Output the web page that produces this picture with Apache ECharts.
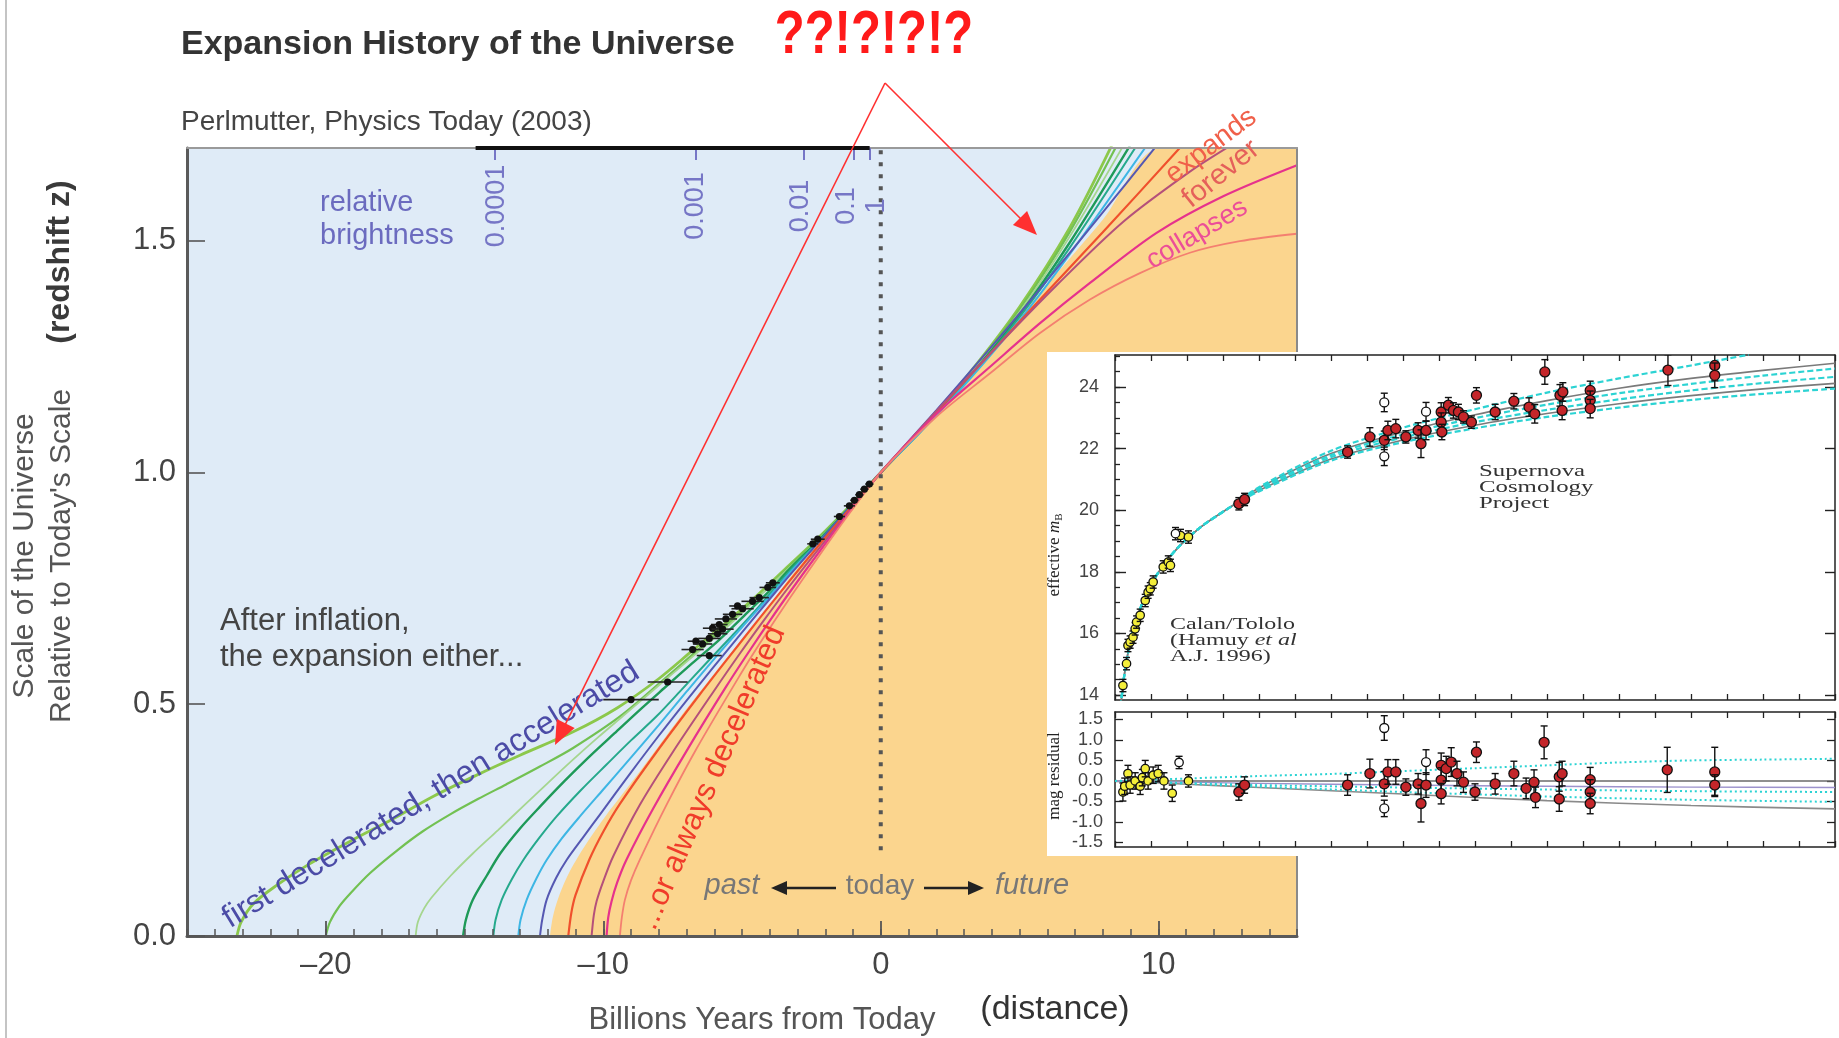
<!DOCTYPE html>
<html><head><meta charset="utf-8">
<script src="https://cdn.jsdelivr.net/npm/echarts/dist/echarts.min.js"></script>
<style>html,body{margin:0;padding:0;background:#fff;}#c{width:1839px;height:1038px;}</style>
</head><body><div id="c"></div>
<script>
// ---------------- Main chart: scale of the universe vs billions of years from today
const xMajorTicks = [-20, -10, 0, 10];
const yTicks = [0, 0.5, 1.0, 1.5];
const brightnessPos = [-13.9, -6.66, -2.77, -0.97, -0.39];
const brightnessLabels = ['0.0001', '0.001', '0.01', '0.1', '1'];
const brightnessBar = [[-14.6, 1.7], [-0.4, 1.7]];
const todayLine = [[0, 0.185], [0, 1.7]];

const curve1 = [[-23.2,0],[-23.05,0.03],[-22.6,0.07],[-21.8,0.108],[-20.6,0.155],[-19.1,0.205],[-17.6,0.252],[-16.1,0.302],[-14.6,0.346],[-13.0,0.39],[-11.1,0.44],[-9.5,0.492],[-8.0,0.555],[-6.8,0.615],[-5.6,0.675],[-4.4,0.738],[-3.3,0.80],[-2.2,0.862],[-1.1,0.929],[0,1],[1.4,1.09],[3.2,1.215],[5.0,1.357],[6.8,1.527],[8.32,1.705]];
const curve2 = [[-20.0,0],[-19.85,0.03],[-19.5,0.065],[-19.1,0.093],[-18.4,0.136],[-17.4,0.186],[-16.5,0.226],[-15.5,0.263],[-14.5,0.296],[-13.5,0.327],[-12.3,0.365],[-11.1,0.405],[-9.3,0.478],[-7.5,0.57],[-6.3,0.632],[-5.2,0.69],[-4.2,0.744],[-3.3,0.797],[-2.2,0.86],[-1.1,0.928],[0,1],[1.4,1.089],[3.2,1.213],[5.0,1.352],[6.8,1.518],[8.5,1.705]];
const curve3 = [[-16.76,0],[-16.68,0.03],[-16.45,0.06],[-16.2,0.082],[-15.5,0.13],[-14.7,0.178],[-13.8,0.228],[-12.9,0.279],[-12.0,0.33],[-11.1,0.38],[-10.2,0.428],[-9.3,0.474],[-8.4,0.52],[-7.5,0.566],[-6.4,0.622],[-5.3,0.68],[-4.3,0.738],[-3.3,0.794],[-2.2,0.858],[-1.1,0.927],[0,1],[1.4,1.088],[3.2,1.21],[5.0,1.346],[6.8,1.508],[8.74,1.705]];
const curve4 = [[-15.05,0],[-14.95,0.035],[-14.7,0.078],[-14.2,0.13],[-13.7,0.179],[-13.0,0.232],[-12.28,0.279],[-11.4,0.334],[-10.5,0.387],[-9.6,0.437],[-8.68,0.488],[-7.8,0.535],[-6.8,0.588],[-5.8,0.64],[-4.8,0.698],[-4.0,0.745],[-3.3,0.791],[-2.2,0.856],[-1.1,0.926],[0,1],[1.4,1.087],[3.2,1.207],[5.0,1.34],[6.8,1.495],[8.98,1.705]];
const curve5 = [[-13.96,0],[-13.88,0.035],[-13.66,0.078],[-13.3,0.122],[-12.88,0.164],[-12.3,0.212],[-11.68,0.258],[-10.8,0.315],[-9.88,0.37],[-9.0,0.422],[-8.08,0.474],[-7.2,0.53],[-6.3,0.588],[-5.4,0.645],[-4.4,0.71],[-3.3,0.786],[-2.2,0.854],[-1.1,0.925],[0,1],[1.4,1.086],[3.2,1.204],[5.0,1.335],[6.8,1.484],[9.22,1.705]];
const curve6 = [[-13.06,0],[-12.98,0.035],[-12.76,0.078],[-12.4,0.125],[-12.04,0.164],[-11.5,0.21],[-10.84,0.258],[-10.0,0.316],[-9.16,0.374],[-8.0,0.455],[-7.0,0.527],[-6.0,0.598],[-5.0,0.666],[-4.0,0.733],[-3.3,0.782],[-2.2,0.852],[-1.1,0.924],[0,1],[1.4,1.085],[3.2,1.201],[5.0,1.328],[6.8,1.47],[9.58,1.705]];
const curve7 = [[-12.28,0],[-12.2,0.035],[-12.04,0.078],[-11.7,0.125],[-11.32,0.164],[-10.7,0.215],[-10.12,0.262],[-9.0,0.353],[-8.0,0.432],[-7.0,0.508],[-6.0,0.582],[-5.0,0.655],[-4.0,0.727],[-3.3,0.777],[-2.2,0.852],[-1.1,0.926],[0,1],[2,1.134],[4,1.272],[6,1.415],[8,1.561],[9.94,1.705]];
const curve8 = [[-11.26,0],[-11.15,0.05],[-11.0,0.088],[-10.5,0.165],[-10.0,0.225],[-9.4,0.285],[-8.08,0.397],[-6.51,0.522],[-5.43,0.605],[-4.4,0.683],[-3.3,0.765],[-2.2,0.845],[-1.1,0.923],[0,1],[2,1.13],[4,1.26],[6,1.39],[8,1.518],[10.85,1.705]];
const curve9 = [[-10.42,0],[-10.34,0.045],[-10.24,0.075],[-10.0,0.118],[-9.64,0.172],[-8.68,0.283],[-7.48,0.398],[-6.03,0.527],[-5.07,0.61],[-4.2,0.682],[-3.3,0.754],[-2.2,0.838],[-1.1,0.92],[0,1],[2,1.132],[4,1.26],[6.34,1.404],[8.74,1.541],[11.14,1.649],[12.6,1.705]];
const curve10 = [[-9.88,0],[-9.82,0.04],[-9.7,0.075],[-9.5,0.115],[-9.16,0.165],[-8.2,0.275],[-6.99,0.40],[-5.55,0.54],[-4.71,0.617],[-4.0,0.68],[-3.3,0.74],[-2.2,0.83],[-1.1,0.917],[0,1],[2,1.126],[3.94,1.228],[5.74,1.322],[7.54,1.409],[9.94,1.517],[12.34,1.596],[15,1.663]];
const curve11 = [[-9.4,0],[-9.33,0.04],[-9.22,0.078],[-9.0,0.12],[-8.68,0.165],[-7.72,0.283],[-6.63,0.405],[-5.07,0.563],[-4.35,0.632],[-3.3,0.727],[-2.2,0.822],[-1.1,0.914],[0,1],[2,1.12],[3.94,1.214],[5.74,1.301],[7.54,1.373],[9.34,1.43],[11.14,1.474],[12.94,1.499],[15,1.515]];
const decelBoundary = [[-11.92,0],[-11.82,0.04],[-11.6,0.085],[-11.2,0.14],[-10.6,0.2],[-9.9,0.26],[-9.0,0.33],[-8.0,0.41],[-7.0,0.49],[-6.0,0.566],[-5.0,0.64],[-4.0,0.712],[-3.3,0.771],[-2.2,0.849],[-1.1,0.925],[0,1],[2,1.133],[4,1.268],[6,1.405],[8,1.545],[10.1,1.7],[15,1.7]];

const curves = [curve1, curve2, curve3, curve4, curve5, curve6, curve7, curve8, curve9, curve10, curve11];
const curveColors = ['#8cc84b', '#72c152', '#a5d68e', '#1e9a58', '#25a98c', '#3db6e4', '#5558b2', '#f0502c', '#b5507a', '#e6328c', '#f47f70'];
const curveWidths = [2.8, 2.2, 1.8, 2.4, 2, 2, 2, 2.2, 2, 2.2, 1.8];

const sneTime = [-0.41,-0.59,-0.77,-0.95,-1.13,-1.49,-2.27,-2.45,-4.07,-3.89,-4.38,-4.62,-4.98,-5.16,-5.34,-5.58,-5.82,-6.06,-5.70,-5.88,-6.66,-6.18,-6.42,-6.78,-6.18,-7.68,-9.0];
const sneScale = [0.975,0.964,0.952,0.940,0.928,0.905,0.856,0.846,0.752,0.762,0.730,0.722,0.706,0.712,0.694,0.684,0.672,0.664,0.662,0.652,0.636,0.642,0.630,0.618,0.605,0.548,0.51];
const sneTimeErr = [0.15,0.15,0.15,0.15,0.2,0.2,0.25,0.2,0.3,0.25,0.35,0.4,0.4,0.3,0.35,0.4,0.3,0.35,0.4,0.35,0.3,0.4,0.35,0.4,0.45,0.72,1.0];

// ---------------- Inset: Hubble diagram (redshift z vs effective m_B) + residuals
const magMajor = [14, 16, 18, 20, 22, 24];
const residTicks = [-1.5, -1.0, -0.5, 0, 0.5, 1.0, 1.5];

const model1 = [[0.008,13.62],[0.012,14.5],[0.02,15.6],[0.03,16.48],[0.045,17.36],[0.065,18.15],[0.09,18.85],[0.12,19.47],[0.16,20.1],[0.2,20.75],[0.3,21.93],[0.4,22.68],[0.5,23.28],[0.6,23.82],[0.7,24.28],[0.8,24.7],[0.88,25.05]];
const model2 = [[0.008,13.62],[0.012,14.5],[0.02,15.6],[0.03,16.48],[0.045,17.36],[0.065,18.15],[0.09,18.85],[0.12,19.47],[0.16,20.1],[0.2,20.72],[0.3,21.84],[0.4,22.54],[0.5,23.1],[0.6,23.56],[0.7,23.96],[0.8,24.28],[0.9,24.54],[1.0,24.77]];
const model3 = [[0.008,13.62],[0.012,14.5],[0.02,15.6],[0.03,16.48],[0.045,17.36],[0.065,18.15],[0.09,18.85],[0.12,19.47],[0.16,20.1],[0.2,20.7],[0.3,21.79],[0.4,22.46],[0.5,22.99],[0.6,23.43],[0.7,23.8],[0.8,24.1],[0.9,24.37],[1.0,24.6]];
const model4 = [[0.008,13.62],[0.012,14.5],[0.02,15.6],[0.03,16.48],[0.045,17.36],[0.065,18.15],[0.09,18.85],[0.12,19.47],[0.16,20.1],[0.2,20.67],[0.3,21.72],[0.4,22.36],[0.5,22.86],[0.6,23.26],[0.7,23.6],[0.8,23.89],[0.9,24.13],[1.0,24.33]];
const model5 = [[0.008,13.62],[0.012,14.5],[0.02,15.6],[0.03,16.48],[0.045,17.36],[0.065,18.15],[0.09,18.85],[0.12,19.47],[0.16,20.1],[0.2,20.64],[0.3,21.66],[0.4,22.28],[0.5,22.76],[0.6,23.14],[0.7,23.46],[0.8,23.72],[0.9,23.94],[1.0,24.12]];
const model6 = [[0.008,13.62],[0.012,14.5],[0.02,15.6],[0.03,16.48],[0.045,17.36],[0.065,18.15],[0.09,18.85],[0.12,19.47],[0.16,20.1],[0.2,20.61],[0.3,21.61],[0.4,22.21],[0.5,22.66],[0.6,23.03],[0.7,23.33],[0.8,23.58],[0.9,23.78],[1.0,23.95]];

const resid1 = [[0,0],[0.1,0.06],[0.2,0.12],[0.3,0.17],[0.4,0.24],[0.5,0.31],[0.6,0.38],[0.7,0.45],[0.8,0.5],[0.9,0.52],[1.0,0.54]];
const resid2 = [[0,0],[1.0,0]];
const resid3 = [[0,0],[0.2,-0.06],[0.4,-0.1],[0.6,-0.13],[0.8,-0.15],[1.0,-0.16]];
const resid4 = [[0,0],[0.1,-0.05],[0.2,-0.1],[0.4,-0.16],[0.6,-0.21],[0.8,-0.25],[1.0,-0.27]];
const resid5 = [[0,0],[0.1,-0.07],[0.2,-0.14],[0.4,-0.27],[0.6,-0.38],[0.8,-0.46],[1.0,-0.51]];
const resid6 = [[0,0],[0.1,-0.08],[0.2,-0.16],[0.4,-0.32],[0.6,-0.48],[0.8,-0.6],[1.0,-0.68]];

const lowZ      = [0.011,0.016,0.018,0.021,0.025,0.028,0.030,0.035,0.042,0.046,0.049,0.053,0.067,0.074,0.077,0.091,0.102];
const lowZMag   = [14.31,15.02,15.61,15.72,15.88,16.15,16.37,16.59,17.07,17.34,17.45,17.67,18.16,18.32,18.21,19.18,19.13];
const lowZMagErr= [0.2,0.2,0.2,0.2,0.2,0.2,0.2,0.2,0.2,0.2,0.2,0.2,0.2,0.2,0.2,0.2,0.2];
const lowZOpen = [0.084], lowZOpenMag = [19.24], lowZOpenErr = [0.2];

const scpZ      = [0.172,0.180,0.323,0.354,0.374,0.379,0.390,0.404,0.421,0.425,0.432,0.453,0.453,0.454,0.463,0.470,0.477,0.484,0.495,0.502,0.528,0.554,0.575,0.583,0.597,0.618,0.621,0.622,0.660,0.660,0.660,0.768,0.833,0.833];
const scpMag    = [20.21,20.35,21.89,22.38,22.27,22.59,22.65,22.38,22.59,22.16,22.59,23.19,22.86,22.54,23.41,23.24,23.19,23.03,22.86,23.73,23.19,23.54,23.35,23.13,24.49,23.73,23.24,23.84,23.89,23.57,23.30,24.55,24.70,24.38];
const scpMagErr = [0.2,0.2,0.2,0.3,0.3,0.3,0.3,0.2,0.25,0.45,0.3,0.3,0.3,0.25,0.25,0.25,0.25,0.2,0.2,0.25,0.25,0.25,0.3,0.3,0.4,0.35,0.3,0.3,0.3,0.3,0.3,0.5,0.5,0.4];
const scpOpenZ = [0.374,0.374,0.432], scpOpenMag = [23.5,21.75,23.2], scpOpenErr = [0.3,0.3,0.3];

const lowZResZ   = [0.011,0.0135,0.018,0.021,0.028,0.035,0.038,0.042,0.046,0.053,0.060,0.068,0.0795,0.102];
const lowZRes    = [-0.27,-0.13,0.18,-0.1,0.0,-0.13,0.08,0.30,0.0,0.14,0.18,0.0,-0.30,0.0];
const lowZResErr = [0.22,0.2,0.2,0.2,0.2,0.2,0.2,0.2,0.2,0.2,0.2,0.2,0.2,0.15];
const lowZOpenResZ = [0.089], lowZOpenRes = [0.45], lowZOpenResErr = [0.15];

const scpResZ   = [0.172,0.180,0.323,0.354,0.374,0.379,0.390,0.404,0.421,0.425,0.432,0.453,0.453,0.453,0.460,0.467,0.475,0.484,0.502,0.500,0.528,0.554,0.571,0.582,0.584,0.596,0.617,0.621,0.617,0.660,0.660,0.660,0.767,0.833,0.833];
const scpRes    = [-0.27,-0.10,-0.10,0.18,-0.07,0.22,0.22,-0.15,-0.07,-0.55,-0.10,0.38,0.02,-0.31,0.30,0.46,0.18,-0.03,0.70,-0.27,-0.07,0.18,-0.18,-0.03,-0.40,0.94,0.10,0.18,-0.44,0.03,-0.27,-0.55,0.27,0.22,-0.10];
const scpResErr = [0.2,0.2,0.25,0.35,0.3,0.3,0.3,0.2,0.25,0.45,0.3,0.3,0.3,0.25,0.3,0.35,0.3,0.25,0.25,0.2,0.25,0.3,0.25,0.3,0.25,0.4,0.35,0.3,0.3,0.3,0.3,0.25,0.55,0.6,0.25];
const scpOpenResZ = [0.374,0.374,0.432], scpOpenRes = [1.29,-0.67,0.46], scpOpenResErr = [0.3,0.2,0.3];

// ---------------- helpers
const FONT = '"Liberation Sans", Arial, sans-serif';
const SERIF = '"Liberation Serif", "Times New Roman", serif';
const zip3 = (a, b, c) => a.map((v, i) => [v, b[i], c[i]]);
const xMinorTicks = []; for (let v = -25; v <= 15; v++) xMinorTicks.push(v);
const zTicks = []; for (let i = 0; i <= 20; i++) zTicks.push(+(i * 0.05).toFixed(2));
const magMinor = []; for (let v = 14; v <= 25; v += 0.5) magMinor.push(v);

function hErrItem(params, api) {
  const x = api.value(0), y = api.value(1), e = api.value(2);
  const p = api.coord([x, y]), l = api.coord([x - e, y]), r = api.coord([x + e, y]);
  return {type: 'group', children: [
    {type: 'line', shape: {x1: l[0], y1: l[1], x2: r[0], y2: r[1]}, style: {stroke: '#222', lineWidth: 1.6}},
    {type: 'circle', shape: {cx: p[0], cy: p[1], r: 3.6}, style: {fill: '#111'}}
  ]};
}
function vErrItem(fill, rad) {
  return function (params, api) {
    const x = api.value(0), y = api.value(1), e = api.value(2);
    const p = api.coord([x, y]), t = api.coord([x, y + e]), b = api.coord([x, y - e]);
    const cw = 3.5, st = {stroke: '#111', lineWidth: 1.4};
    return {type: 'group', children: [
      {type: 'line', shape: {x1: p[0], y1: t[1], x2: p[0], y2: b[1]}, style: st},
      {type: 'line', shape: {x1: p[0] - cw, y1: t[1], x2: p[0] + cw, y2: t[1]}, style: st},
      {type: 'line', shape: {x1: p[0] - cw, y1: b[1], x2: p[0] + cw, y2: b[1]}, style: st},
      {type: 'circle', shape: {cx: p[0], cy: p[1], r: rad}, style: {fill: fill, stroke: '#111', lineWidth: 1.3}}
    ]};
  };
}
function errSeries(data, fill, rad, xi, yi) {
  return {type: 'custom', xAxisIndex: xi, yAxisIndex: yi, data: data, renderItem: vErrItem(fill, rad), clip: true, z: 8, silent: true, encode: {x: 0, y: 1}};
}

const baseAxis = {splitLine: {show: false}, axisPointer: {show: false}};
const insetLine = {onZero: false, lineStyle: {color: '#222', width: 1.5}};
function insetX(grid, pos) {
  return Object.assign({}, baseAxis, {gridIndex: grid, type: 'value', min: 0, max: 1, position: pos, z: 6,
    axisLine: insetLine, axisTick: {inside: true, length: 6, customValues: zTicks, lineStyle: {color: '#222', width: 1.3}}, axisLabel: {show: false}});
}

const xAxes = [
  Object.assign({}, baseAxis, {gridIndex: 0, type: 'value', min: -25, max: 15, position: 'bottom', z: 2.5,
    axisLine: {onZero: false, lineStyle: {color: '#5a5a5a', width: 3}},
    axisTick: {inside: true, length: 7, customValues: xMinorTicks, lineStyle: {color: '#555', width: 1.5}},
    axisLabel: {customValues: xMajorTicks, formatter: v => (v < 0 ? '\u2013' + Math.abs(v) : String(v)), fontSize: 31, fontFamily: FONT, color: '#444', margin: 14}}),
  Object.assign({}, baseAxis, {gridIndex: 0, type: 'value', min: -25, max: 15, position: 'bottom', z: 2.5,
    axisLine: {show: false, onZero: false},
    axisTick: {inside: true, length: 15, customValues: xMajorTicks, lineStyle: {color: '#555', width: 1.8}},
    axisLabel: {show: false}}),
  Object.assign({}, baseAxis, {gridIndex: 0, type: 'value', min: -25, max: 15, position: 'top', z: 2.5,
    axisLine: {onZero: false, lineStyle: {color: '#9a9a9a', width: 2}},
    axisTick: {inside: true, length: 12, customValues: brightnessPos, lineStyle: {color: '#7676c6', width: 2}},
    axisLabel: {show: false}}),
  insetX(1, 'bottom'), insetX(1, 'top'), insetX(2, 'bottom'), insetX(2, 'top')
];

const yAxes = [
  Object.assign({}, baseAxis, {gridIndex: 0, type: 'value', min: 0, max: 1.7, position: 'left', z: 2.5,
    axisLine: {onZero: false, lineStyle: {color: '#5a5a5a', width: 3}},
    axisTick: {inside: true, length: 18, customValues: yTicks, lineStyle: {color: '#555', width: 1.6}},
    axisLabel: {customValues: yTicks, formatter: v => v.toFixed(1), fontSize: 31, fontFamily: FONT, color: '#444', margin: 11}}),
  Object.assign({}, baseAxis, {gridIndex: 0, type: 'value', min: 0, max: 1.7, position: 'right', z: 2.5,
    axisLine: {onZero: false, lineStyle: {color: '#8a8a8a', width: 2}}, axisTick: {show: false}, axisLabel: {show: false}}),
  Object.assign({}, baseAxis, {gridIndex: 1, type: 'value', min: 13.84, max: 25.04, position: 'left', z: 6,
    axisLine: insetLine, axisTick: {inside: true, length: 5, customValues: magMinor, lineStyle: {color: '#222', width: 1.3}},
    axisLabel: {customValues: magMajor, fontSize: 18, fontFamily: FONT, color: '#444', margin: 16}}),
  Object.assign({}, baseAxis, {gridIndex: 1, type: 'value', min: 13.84, max: 25.04, position: 'left', z: 6,
    axisLine: {show: false, onZero: false}, axisTick: {inside: true, length: 11, customValues: magMajor, lineStyle: {color: '#222', width: 1.4}}, axisLabel: {show: false}}),
  Object.assign({}, baseAxis, {gridIndex: 1, type: 'value', min: 13.84, max: 25.04, position: 'right', z: 6,
    axisLine: insetLine, axisTick: {inside: true, length: 10, customValues: magMajor, lineStyle: {color: '#222', width: 1.4}}, axisLabel: {show: false}}),
  Object.assign({}, baseAxis, {gridIndex: 2, type: 'value', min: -1.61, max: 1.68, position: 'left', z: 6,
    axisLine: insetLine, axisTick: {inside: true, length: 8, customValues: residTicks, lineStyle: {color: '#222', width: 1.3}},
    axisLabel: {customValues: residTicks, formatter: v => v.toFixed(1), fontSize: 18, fontFamily: FONT, color: '#444', margin: 12}}),
  Object.assign({}, baseAxis, {gridIndex: 2, type: 'value', min: -1.61, max: 1.68, position: 'right', z: 6,
    axisLine: insetLine, axisTick: {inside: true, length: 8, customValues: residTicks, lineStyle: {color: '#222', width: 1.3}}, axisLabel: {show: false}})
];

const series = [];
series.push({type: 'line', xAxisIndex: 0, yAxisIndex: 0, data: decelBoundary, symbol: 'none', smooth: 0.3, silent: true, z: 1,
  lineStyle: {width: 0}, areaStyle: {color: '#fbd58e', opacity: 1, origin: 'start'}});
curves.forEach((d, i) => series.push({type: 'line', xAxisIndex: 0, yAxisIndex: 0, data: d, symbol: 'none', smooth: 0.3, silent: true, z: 2,
  lineStyle: {color: curveColors[i], width: curveWidths[i]}}));
series.push({type: 'line', xAxisIndex: 0, yAxisIndex: 0, data: todayLine, symbol: 'none', silent: true, z: 2.2,
  lineStyle: {color: '#555', width: 4, type: [4, 8], cap: 'butt'}});
series.push({type: 'line', xAxisIndex: 0, yAxisIndex: 0, data: brightnessBar, symbol: 'none', silent: true, clip: false, z: 2.6,
  lineStyle: {color: '#111', width: 4}});
series.push({type: 'custom', xAxisIndex: 0, yAxisIndex: 0, data: zip3(sneTime, sneScale, sneTimeErr), renderItem: hErrItem, silent: true, z: 2.4, encode: {x: 0, y: 1}});

// inset top panel
[[model2, '#7a7a7a', 'solid', 1.6], [model5, '#7a7a7a', 'solid', 1.6],
 [model1, '#2cd3d3', [6, 3], 2.2], [model3, '#2cd3d3', [6, 3], 2.2], [model4, '#2cd3d3', [6, 3], 2.2], [model6, '#2cd3d3', [6, 3], 2.2]]
 .forEach(m => series.push({type: 'line', xAxisIndex: 3, yAxisIndex: 2, data: m[0], symbol: 'none', smooth: 0.3, silent: true, z: 6,
   lineStyle: {color: m[1], type: m[2], width: m[3]}}));
series.push(errSeries(zip3(lowZ, lowZMag, lowZMagErr), '#f4ee3a', 4.2, 3, 2));
series.push(errSeries(zip3(lowZOpen, lowZOpenMag, lowZOpenErr), '#ffffff', 4.2, 3, 2));
series.push(errSeries(zip3(scpZ, scpMag, scpMagErr), '#c4262a', 5, 3, 2));
series.push(errSeries(zip3(scpOpenZ, scpOpenMag, scpOpenErr), '#ffffff', 4.5, 3, 2));

// inset bottom panel
[[resid2, '#6a6a6a', 'solid', 1.6], [resid6, '#8a8a8a', 'solid', 1.6], [resid3, '#9c92cc', 'solid', 1.4],
 [resid1, '#2cd3d3', [2, 3], 2], [resid4, '#2cd3d3', [2, 3], 2], [resid5, '#2cd3d3', [2, 3], 2]]
 .forEach(m => series.push({type: 'line', xAxisIndex: 5, yAxisIndex: 5, data: m[0], symbol: 'none', smooth: 0.3, silent: true, z: 6,
   lineStyle: {color: m[1], type: m[2], width: m[3]}}));
series.push(errSeries(zip3(lowZResZ, lowZRes, lowZResErr), '#f4ee3a', 4.2, 5, 5));
series.push(errSeries(zip3(lowZOpenResZ, lowZOpenRes, lowZOpenResErr), '#ffffff', 4.2, 5, 5));
series.push(errSeries(zip3(scpResZ, scpRes, scpResErr), '#c4262a', 5, 5, 5));
series.push(errSeries(zip3(scpOpenResZ, scpOpenRes, scpOpenResErr), '#ffffff', 4.5, 5, 5));

// ---------------- annotations (graphic)
const G = [];
function T(x, y, text, font, fill, o) {
  o = o || {};
  const al = o.align || 'left';
  const el = {type: 'text', x: x, y: y, z: 20, silent: true,
    style: {text: text, font: font, fill: fill, textAlign: al, align: al, textVerticalAlign: 'middle', verticalAlign: 'middle'}};
  if (o.rot) el.rotation = o.rot * Math.PI / 180;
  if (o.sx) el.scaleX = o.sx;
  if (o.rich) el.style.rich = o.rich;
  G.push(el);
}
function L(x1, y1, x2, y2, stroke, w, z) { G.push({type: 'line', z: z || 20, silent: true, shape: {x1, y1, x2, y2}, style: {stroke: stroke, lineWidth: w}}); }
function arrow(from, tip, color, w, len, hw) {
  const dx = tip[0] - from[0], dy = tip[1] - from[1], d = Math.hypot(dx, dy), ux = dx / d, uy = dy / d;
  const bx = tip[0] - ux * len, by = tip[1] - uy * len;
  L(from[0], from[1], bx + ux * 2, by + uy * 2, color, w);
  G.push({type: 'polygon', z: 21, silent: true, shape: {points: [[tip[0], tip[1]], [bx - uy * hw, by + ux * hw], [bx + uy * hw, by - ux * hw]]}, style: {fill: color}});
}

L(6, 0, 6, 1038, '#c4c4c4', 2, 1);
G.push({type: 'rect', z: 3, silent: true, shape: {x: 1047, y: 352, width: 792, height: 504}, style: {fill: '#ffffff'}});

T(181, 45, 'Expansion History of the Universe', 'bold 34px ' + FONT, '#333');
T(874, 36, '??!?!?!?', 'bold 62px ' + FONT, '#ff1a1a', {align: 'center', sx: 0.79});
T(181, 122, 'Perlmutter, Physics Today (2003)', '28px ' + FONT, '#444');
T(60, 262, '(redshift z)', 'bold 32px ' + FONT, '#3a3a3a', {align: 'center', rot: 90});
T(25, 556, 'Scale of the Universe', '30px ' + FONT, '#555', {align: 'center', rot: 90});
T(62, 556, "Relative to Today's Scale", '30px ' + FONT, '#555', {align: 'center', rot: 90});
T(762, 1020, 'Billions Years from Today', '31px ' + FONT, '#555', {align: 'center'});
T(1055, 1010, '(distance)', '34px ' + FONT, '#333', {align: 'center'});
T(320, 203, 'relative', '29px ' + FONT, '#6b6bbf');
T(320, 236, 'brightness', '29px ' + FONT, '#6b6bbf');
T(220, 621, 'After inflation,', '31px ' + FONT, '#444');
T(220, 657, 'the expansion either...', '31px ' + FONT, '#444');
T(431, 795, 'first decelerated, then accelerated', '32px ' + FONT, '#4b4ba6', {align: 'center', rot: 31.5});
T(712, 778, '...or always decelerated', '31px ' + FONT, '#f03c2a', {align: 'center', rot: 66.5});
T(1211, 146, 'expands', '28px ' + FONT, '#f0604a', {align: 'center', rot: 37});
T(1221, 174, 'forever', '29px ' + FONT, '#e5605a', {align: 'center', rot: 39});
T(1197, 234, 'collapses', '27px ' + FONT, '#ec4e98', {align: 'center', rot: 30.7});
T(732, 886, 'past', 'italic 29px ' + FONT, '#777', {align: 'center'});
T(880, 886, 'today', '28px ' + FONT, '#777', {align: 'center'});
T(1032, 886, 'future', 'italic 29px ' + FONT, '#777', {align: 'center'});
arrow([836, 888], [771, 888], '#222', 2.5, 16, 7);
arrow([924, 888], [984, 888], '#222', 2.5, 16, 7);
arrow([885, 83], [555, 745], '#ff3030', 1.6, 24, 10);
arrow([885, 83], [1037, 235], '#ff3030', 1.6, 24, 10);

// inset texts
T(1479, 472, 'Supernova', '16px ' + SERIF, '#333', {sx: 1.55});
T(1479, 488, 'Cosmology', '16px ' + SERIF, '#333', {sx: 1.55});
T(1479, 504, 'Project', '16px ' + SERIF, '#333', {sx: 1.55});
T(1170, 625, 'Calan/Tololo', '16px ' + SERIF, '#333', {sx: 1.5});
T(1170, 641, '{n|(Hamuy }{i|et al}', '16px ' + SERIF, '#333', {sx: 1.5,
  rich: {n: {fontSize: 16, fontFamily: SERIF, fill: '#333'}, i: {fontSize: 16, fontFamily: SERIF, fontStyle: 'italic', fill: '#333'}}});
T(1170, 657, 'A.J. 1996)', '16px ' + SERIF, '#333', {sx: 1.5});
T(1055, 555, '{n|effective }{i|m}{s|B}', '17px ' + SERIF, '#222', {align: 'center', rot: 90,
  rich: {n: {fontSize: 17, fontFamily: SERIF, fill: '#222'}, i: {fontSize: 17, fontFamily: SERIF, fontStyle: 'italic', fill: '#222'},
         s: {fontSize: 11, fontFamily: SERIF, fill: '#222', verticalAlign: 'bottom', padding: [8, 0, 0, 0]}}});
T(1055, 776, 'mag residual', '17px ' + SERIF, '#222', {align: 'center', rot: 90});

const chart = echarts.init(document.getElementById('c'), null, {width: 1839, height: 1038});
const option = {
  animation: false,
  backgroundColor: '#ffffff',
  grid: [
    {left: 187, right: 542, top: 148, bottom: 102, show: true, backgroundColor: '#dfebf7', borderWidth: 0},
    {left: 1115, right: 4, top: 355, bottom: 338},
    {left: 1115, right: 4, top: 712, bottom: 191}
  ],
  xAxis: xAxes,
  yAxis: yAxes,
  series: series,
  graphic: {elements: G}
};
chart.setOption(option);

// brightness scale labels: placed at the top-axis tick positions (reading bottom-to-top)
const labelShift = [2, 0, -3, -7, 7];
brightnessPos.forEach((v, i) => {
  const px = chart.convertToPixel({xAxisIndex: 2}, v);
  T(px + labelShift[i], 206, brightnessLabels[i], '27px ' + FONT, '#7676c6', {align: 'center', rot: 90});
});
chart.setOption({graphic: {elements: G}});
</script></body></html>
